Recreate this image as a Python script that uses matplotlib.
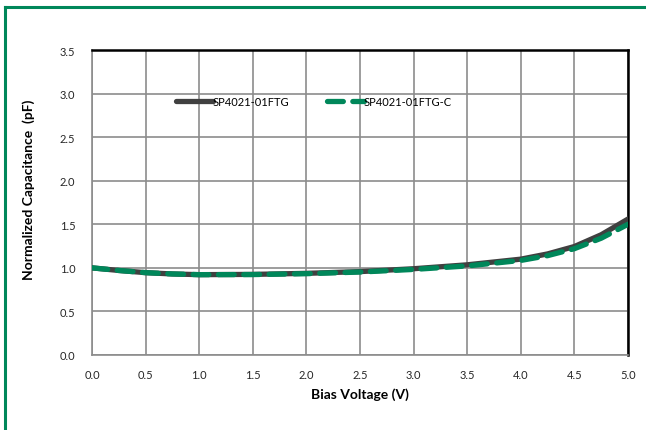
import matplotlib
matplotlib.use('Agg')
import matplotlib.pyplot as plt
from matplotlib.lines import Line2D

plt.rcParams['font.family'] = ['Lato', 'DejaVu Sans']

# bias voltage (V) and normalized capacitance
voltage = [0.0, 0.25, 0.5, 0.75, 1.0, 1.5, 2.0, 2.5, 3.0, 3.5, 4.0, 4.25, 4.5, 4.75, 5.0]
cap_ftg = [1.0, 0.97, 0.945, 0.93, 0.922, 0.925, 0.937, 0.957, 0.99, 1.035, 1.1, 1.16, 1.245, 1.38, 1.56]
cap_ftg_c = [1.0, 0.97, 0.945, 0.93, 0.922, 0.923, 0.933, 0.952, 0.982, 1.022, 1.085, 1.14, 1.22, 1.34, 1.5]

series_names = ['SP4021-01FTG', 'SP4021-01FTG-C']
dark = '#404040'
green = '#00875A'
grid_col = '#8c8c8c'
dash = (3.0, 1.8)

fig = plt.figure(figsize=(6.46, 4.31), dpi=100)
ax = fig.add_axes([92 / 646, 1 - 356 / 431, 536 / 646, 305 / 431])

ax.plot(voltage, cap_ftg, color=dark, lw=3.8, solid_capstyle='round', zorder=3)
ax.plot(voltage, cap_ftg_c, color=green, lw=3.8, dashes=dash,
        dash_capstyle='round', zorder=4)

ax.set_xlim(0, 5)
ax.set_ylim(0, 3.5)
ax.set_xticks([i * 0.5 for i in range(11)])
ax.set_yticks([i * 0.5 for i in range(8)])
ax.xaxis.set_major_formatter(plt.FormatStrFormatter('%.1f'))
ax.yaxis.set_major_formatter(plt.FormatStrFormatter('%.1f'))
ax.grid(True, color=grid_col, lw=1.2)
ax.tick_params(length=0, labelsize=8, colors='#262626')
ax.tick_params(axis='x', pad=10)
ax.tick_params(axis='y', pad=12)

for s in ['left', 'bottom']:
    ax.spines[s].set_color(grid_col)
    ax.spines[s].set_linewidth(1.2)
for s in ['top', 'right']:
    ax.spines[s].set_color('black')
    ax.spines[s].set_linewidth(1.8)

ax.set_xlabel('Bias Voltage (V)', fontsize=10, fontweight='bold', labelpad=5)
ax.set_ylabel('Normalized Capacitance  (pF)', fontsize=10, fontweight='bold')
ax.yaxis.set_label_coords(-0.106, 0.544)

handles = [Line2D([], [], color=dark, lw=3.8, solid_capstyle='round'),
           Line2D([], [], color=green, lw=3.8, dashes=dash, dash_capstyle='round')]
leg = ax.legend(handles, series_names, loc='center left',
                bbox_to_anchor=((176 - 92) / 536, (356 - 102) / 305),
                ncol=2, frameon=False, fontsize=8, handlelength=3.3,
                handletextpad=0.0, columnspacing=3.4, borderpad=0, borderaxespad=0)

# green frame lines on left and top
fig.add_artist(Line2D([4.5 / 646, 4.5 / 646], [0, 1 - 7.5 / 431], color=green, lw=2.2,
                      transform=fig.transFigure))
fig.add_artist(Line2D([4.5 / 646, 1], [1 - 7.5 / 431, 1 - 7.5 / 431], color=green, lw=2.2,
                      transform=fig.transFigure))

fig.savefig('out.png', dpi=100)
